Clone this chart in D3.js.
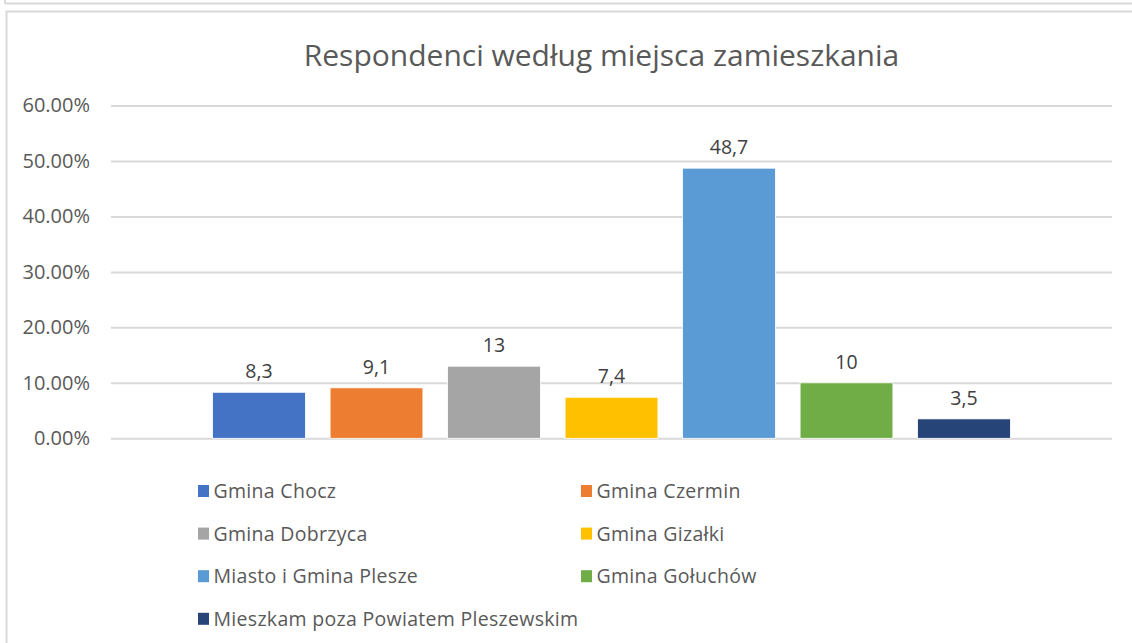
<!DOCTYPE html>
<html>
<head>
<meta charset="utf-8">
<script src="https://cdn.jsdelivr.net/npm/d3@7"></script>
<style>
  body { margin: 0; background: #fff; }
  svg { display: block; font-family: "Open Sans", "Noto Sans", sans-serif; }
</style>
</head>
<body>
<svg id="chart" width="1132" height="643"></svg>
<script>
const categories = [
    "Gmina Chocz", "Gmina Czermin", "Gmina Dobrzyca", "Gmina Gizałki",
    "Miasto i Gmina Plesze", "Gmina Gołuchów", "Mieszkam poza Powiatem Pleszewskim"
];
const values = [8.3, 9.1, 13, 7.4, 48.7, 10, 3.5];
const valueLabels = ["8,3", "9,1", "13", "7,4", "48,7", "10", "3,5"];
const colors = ["#4472C4", "#ED7D31", "#A5A5A5", "#FFC000", "#5B9BD5", "#70AD47", "#264478"];
const yTicks = [0, 10, 20, 30, 40, 50, 60];

const svg = d3.select("#chart");
const plot = { left: 111, right: 1112, top: 105.5, bottom: 438.3 };

// frames like in the screenshot
svg.append("line")
    .attr("x1", 5).attr("x2", 1132).attr("y1", 3.5).attr("y2", 3.5)
    .attr("stroke", "#d9d9d9").attr("stroke-width", 2);
svg.append("line")
    .attr("x1", 5).attr("x2", 5).attr("y1", 0).attr("y2", 3.5)
    .attr("stroke", "#d9d9d9").attr("stroke-width", 2);
svg.append("rect")
    .attr("x", 6.5).attr("y", 11.5).attr("width", 1140).attr("height", 650)
    .attr("fill", "#fff").attr("stroke", "#d9d9d9").attr("stroke-width", 2);

const x = d3.scaleBand()
    .domain(categories)
    .range([200.25, 1022.75])
    .paddingInner(0.21)
    .paddingOuter(0.105);

const y = d3.scaleLinear()
    .domain([0, 60])
    .range([plot.bottom, plot.top]);

// gridlines + tick labels
const yAxis = svg.append("g")
    .attr("transform", `translate(${plot.left},0)`)
    .call(d3.axisLeft(y)
        .tickValues(yTicks)
        .tickSize(-(plot.right - plot.left))
        .tickPadding(21)
        .tickFormat(d => d.toFixed(2) + "%"));
yAxis.select(".domain").remove();
yAxis.selectAll(".tick line").attr("stroke", "#d9d9d9").attr("stroke-width", 2);
yAxis.selectAll(".tick text")
    .attr("fill", "#595959")
    .attr("font-size", 20)
    .attr("font-family", "Open Sans, sans-serif");

// bars
svg.selectAll("rect.bar")
    .data(values)
    .join("rect")
    .attr("class", "bar")
    .attr("x", (d, i) => x(categories[i]))
    .attr("y", d => y(d))
    .attr("width", x.bandwidth())
    .attr("height", d => y(0) - y(d))
    .attr("fill", (d, i) => colors[i])
    .attr("stroke", "#fff")
    .attr("stroke-width", 0.8);

// value labels
svg.selectAll("text.val")
    .data(values)
    .join("text")
    .attr("class", "val")
    .attr("x", (d, i) => x(categories[i]) + x.bandwidth() / 2)
    .attr("y", d => y(d) - 14)
    .attr("text-anchor", "middle")
    .attr("fill", "#404040")
    .attr("font-size", 19.5)
    .text((d, i) => valueLabels[i]);

// title
svg.append("text")
    .attr("x", 601.5)
    .attr("y", 66)
    .attr("text-anchor", "middle")
    .attr("fill", "#595959")
    .attr("font-size", 30)
    .text("Respondenci według miejsca zamieszkania");

// legend, two columns
const legend = svg.append("g");
const items = legend.selectAll("g")
    .data(categories)
    .join("g")
    .attr("transform", (d, i) => `translate(${i % 2 === 0 ? 198 : 581}, ${491 + Math.floor(i / 2) * 42.6})`);
items.append("rect")
    .attr("x", 0).attr("y", -6)
    .attr("width", 11).attr("height", 12)
    .attr("fill", (d, i) => colors[i]);
items.append("text")
    .attr("x", 15.5)
    .attr("y", 7)
    .attr("fill", "#595959")
    .attr("font-size", 19.5)
    .attr("letter-spacing", 0.3)
    .text(d => d);
</script>
</body>
</html>
